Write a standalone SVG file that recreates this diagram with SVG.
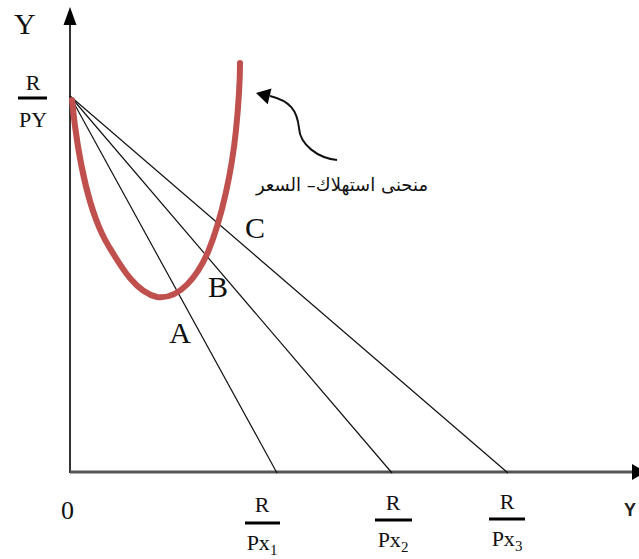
<svg xmlns="http://www.w3.org/2000/svg" width="639" height="559" viewBox="0 0 639 559">
<style>
.lbl{font-family:"Liberation Serif","DejaVu Serif",serif;fill:#111}
.frac{font-family:"Liberation Serif","DejaVu Serif",serif;font-size:22px;fill:#111;text-anchor:middle}
.bar{stroke:#000;stroke-width:3}
.budget{stroke:#111;stroke-width:1.2;fill:none}
</style>
<defs>
<marker id="ah" markerWidth="10" markerHeight="10" refX="9" refY="5" orient="auto" markerUnits="userSpaceOnUse" viewBox="0 0 10 10">
<path d="M0,0 L10,5 L0,10 Z" fill="#000"/>
</marker>
</defs>
<rect width="639" height="559" fill="#fff"/>
<g id="axes">
<line x1="70" y1="473" x2="70" y2="24" stroke="#333" stroke-width="2"/>
<polygon points="70,7 63.5,25 76.5,25" fill="#000"/>
<line x1="70" y1="472" x2="632" y2="472" stroke="#555" stroke-width="3"/>
<polygon points="646,472 632,464 632,480" fill="#000"/>
</g>
<g id="connectors">
<line class="budget" x1="70" y1="96" x2="277" y2="473"/>
<line class="budget" x1="70" y1="96" x2="392" y2="473"/>
<line class="budget" x1="70" y1="96" x2="508" y2="473"/>
<path d="M337,160 C318,158 300,145 299,128 C297,110 290,101 270,96" fill="none" stroke="#111" stroke-width="2"/>
<polygon points="256,93 271.5,88.6 267.7,104.2" fill="#000"/>
</g>
<g id="pcc-curve">
<path d="M72,100 C78,160 90,215 108,245 C120,265 135,292 157,297 C180,300 198,275 208,252 C222,218 232,170 236,130 C239,100 240,80 240,63" fill="none" stroke="#C0504D" stroke-width="6" stroke-linecap="round"/>
</g>
<g id="labels">
<text class="lbl" x="14" y="34" font-size="30">Y</text>
<text class="frac" x="33" y="90">R</text>
<line class="bar" x1="18" y1="98" x2="47" y2="98"/>
<text class="frac" x="33" y="127">PY</text>
<text class="lbl" x="61" y="519" font-size="26">0</text>
<text x="342" y="191" font-family="'DejaVu Sans',sans-serif" font-size="18" text-anchor="middle" fill="#111" direction="rtl">منحنى استهلاك– السعر</text>
<text class="lbl" x="255" y="238" font-size="30" text-anchor="middle">C</text>
<text class="lbl" x="218" y="297" font-size="30" text-anchor="middle">B</text>
<text class="lbl" x="180" y="343" font-size="30" text-anchor="middle">A</text>
<text x="624" y="516" font-family="'Liberation Sans',sans-serif" font-size="18" font-weight="bold" fill="#222">Y</text>
</g>
<g id="frac1">
<text class="frac" x="262" y="512">R</text>
<line class="bar" x1="245" y1="523" x2="280" y2="523"/>
<text class="frac" x="262" y="550">Px<tspan font-size="15" dy="5">1</tspan></text>
</g>
<g id="frac2">
<text class="frac" x="393" y="510">R</text>
<line class="bar" x1="375" y1="520" x2="412" y2="520"/>
<text class="frac" x="393" y="547">Px<tspan font-size="15" dy="5">2</tspan></text>
</g>
<g id="frac3">
<text class="frac" x="507" y="509">R</text>
<line class="bar" x1="489" y1="519" x2="525" y2="519"/>
<text class="frac" x="507" y="546">Px<tspan font-size="15" dy="5">3</tspan></text>
</g>
</svg>
